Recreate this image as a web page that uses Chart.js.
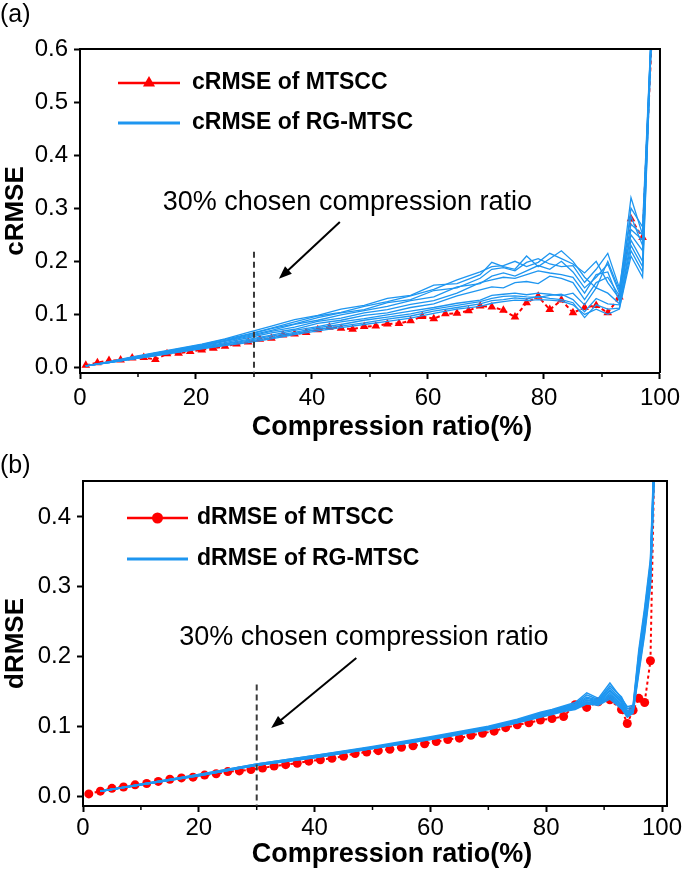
<!DOCTYPE html>
<html><head><meta charset="utf-8">
<script src="https://cdn.jsdelivr.net/npm/chart.js@4.4.1/dist/chart.umd.min.js"></script>
<style>
html,body{margin:0;padding:0;background:#fff;}
#wrap{position:relative;width:685px;height:871px;overflow:hidden;background:#fff;}
canvas{position:absolute;left:0;}
</style></head><body>
<div id="wrap">
<canvas id="ca" width="685" height="445" style="top:0px"></canvas>
<canvas id="cb" width="685" height="431" style="top:440px"></canvas>
</div>
<script>
const FONT = "'Liberation Sans', Arial, sans-serif";
const RED = '#ff0000';
const BLUE = '#1e96f0';

// ---------- shared tick labels ----------
const xTicks = [0, 20, 40, 60, 80, 100];
const xMinorTicks = [10, 30, 50, 70, 90];
const yTicksA = [0, 0.1, 0.2, 0.3, 0.4, 0.5, 0.6];
const yTicksB = [0, 0.1, 0.2, 0.3, 0.4];

// ---------- panel (a): cRMSE ----------
const redA_x = [1,3,5,7,9,11,13,15,17,19,21,23,25,27,29,31,33,35,37,39,41,43,45,47,49,51,53,55,57,59,61,63,65,67,69,71,73,75,77,79,81,83,85,87,89,91,93,95,97,99];
const redA_y = [0.004,0.009,0.013,0.014,0.018,0.019,0.015,0.026,0.027,0.030,
                0.033,0.036,0.040,0.044,0.048,0.053,0.055,0.061,0.063,0.066,
                0.071,0.076,0.074,0.072,0.077,0.078,0.082,0.083,0.088,0.096,
                0.092,0.101,0.102,0.107,0.116,0.114,0.108,0.095,0.122,0.134,
                0.109,0.127,0.103,0.113,0.117,0.103,0.133,0.280,0.245,0.72];

const blueA_x = [1,5,9,13,17,21,25,29,33,37,41,45,49,53,57,61,65,69,71,73,75,77,79,81,83,85,87,89,91,93,95,97,99];
const blueA_1 = [0.003,0.011,0.020,0.028,0.036,0.044,0.054,0.066,0.078,0.090, 0.098,0.110,0.117,0.130,0.136,0.155,0.158,0.175,0.198,0.190, 0.185,0.210,0.190,0.205,0.220,0.200,0.170,0.150,0.200,0.145, 0.320,0.250,0.76];
const blueA_2 = [0.003,0.010,0.019,0.027,0.035,0.043,0.053,0.063,0.074,0.086, 0.097,0.104,0.115,0.124,0.135,0.147,0.165,0.180,0.190,0.192, 0.200,0.190,0.198,0.215,0.205,0.195,0.178,0.200,0.160,0.130, 0.300,0.265,0.76];
const blueA_3 = [0.003,0.010,0.019,0.027,0.034,0.042,0.051,0.062,0.073,0.082, 0.094,0.103,0.109,0.122,0.128,0.145,0.150,0.168,0.185,0.188, 0.182,0.198,0.205,0.195,0.190,0.192,0.160,0.185,0.215,0.150, 0.285,0.230,0.76];
const blueA_4 = [0.003,0.010,0.018,0.026,0.033,0.041,0.050,0.060,0.070,0.081, 0.089,0.099,0.107,0.115,0.126,0.133,0.152,0.158,0.172,0.178, 0.172,0.182,0.192,0.185,0.200,0.180,0.150,0.170,0.195,0.140, 0.270,0.250,0.76];
const blueA_5 = [0.003,0.010,0.018,0.025,0.033,0.040,0.049,0.058,0.068,0.076, 0.087,0.093,0.103,0.109,0.119,0.126,0.140,0.160,0.165,0.170, 0.168,0.175,0.182,0.178,0.175,0.170,0.140,0.175,0.180,0.125, 0.260,0.240,0.76];
const blueA_6 = [0.003,0.010,0.017,0.025,0.032,0.039,0.047,0.056,0.065,0.072, 0.083,0.089,0.098,0.103,0.113,0.120,0.135,0.146,0.152,0.150, 0.160,0.162,0.158,0.172,0.168,0.160,0.128,0.160,0.170,0.135, 0.250,0.220,0.76];
const blueA_7 = [0.003,0.009,0.017,0.024,0.031,0.038,0.045,0.053,0.061,0.070, 0.077,0.086,0.092,0.099,0.106,0.113,0.121,0.127,0.136,0.138, 0.140,0.137,0.140,0.138,0.135,0.140,0.118,0.150,0.140,0.120, 0.240,0.200,0.76];
const blueA_8 = [0.003,0.009,0.016,0.023,0.030,0.037,0.044,0.051,0.059,0.066, 0.075,0.081,0.089,0.095,0.101,0.110,0.117,0.124,0.130,0.134, 0.135,0.133,0.132,0.136,0.138,0.128,0.105,0.130,0.120,0.118, 0.230,0.190,0.76];
const blueA_9 = [0.003,0.009,0.016,0.023,0.029,0.036,0.042,0.049,0.056,0.064, 0.072,0.078,0.084,0.091,0.097,0.106,0.113,0.120,0.126,0.128, 0.131,0.129,0.134,0.130,0.128,0.122,0.094,0.118,0.110,0.112, 0.220,0.180,0.76];
const blueA_10 = [0.003,0.009,0.016,0.022,0.029,0.035,0.041,0.047,0.054,0.062, 0.069,0.075,0.081,0.087,0.093,0.102,0.110,0.115,0.121,0.124, 0.127,0.126,0.128,0.127,0.125,0.118,0.100,0.110,0.100,0.110, 0.210,0.170,0.76];

// ---------- panel (b): dRMSE ----------
const redB_x = [1,3,5,7,9,11,13,15,17,19,21,23,25,27,29,31,33,35,37,39,41,43,45,47,49,51,53,55,57,59,61,63,65,67,69,71,73,75,77,79,81,83,85,87,89,91,93,94,95,96,97,98,99];
const redB_y = [0.003,0.007,0.011,0.013,0.016,0.018,0.021,0.024,0.026,0.027,
                0.030,0.032,0.035,0.036,0.038,0.040,0.043,0.045,0.047,0.050,
                0.052,0.054,0.057,0.061,0.063,0.065,0.067,0.070,0.072,0.075,
                0.078,0.081,0.083,0.087,0.090,0.093,0.098,0.102,0.105,0.109,
                0.111,0.114,0.131,0.127,0.135,0.138,0.124,0.104,0.123,0.140,0.134,0.194,0.62];

const blueB_x = [3,10,20,30,40,50,60,70,75,79,81,83,85,87,89,91,93,94,95,96,97,98,99];
const blueB_1 = [0.007,0.017,0.031,0.046,0.058,0.071,0.085,0.100,0.110,0.120,0.124,0.129,0.134,0.148,0.140,0.162,0.140,0.128,0.130,0.210,0.270,0.340,0.58];
const blueB_2 = [0.007,0.017,0.031,0.046,0.058,0.070,0.084,0.099,0.109,0.119,0.123,0.128,0.132,0.145,0.138,0.158,0.142,0.125,0.128,0.205,0.265,0.335,0.57];
const blueB_3 = [0.007,0.017,0.030,0.045,0.057,0.070,0.084,0.099,0.108,0.118,0.122,0.127,0.131,0.142,0.137,0.155,0.138,0.122,0.126,0.200,0.260,0.330,0.57];
const blueB_4 = [0.007,0.017,0.030,0.045,0.057,0.070,0.083,0.098,0.108,0.117,0.121,0.126,0.130,0.140,0.136,0.152,0.136,0.120,0.125,0.196,0.255,0.325,0.56];
const blueB_5 = [0.007,0.016,0.030,0.045,0.057,0.069,0.083,0.098,0.107,0.116,0.120,0.125,0.129,0.138,0.135,0.150,0.134,0.118,0.124,0.192,0.250,0.320,0.56];
const blueB_6 = [0.007,0.016,0.030,0.045,0.056,0.069,0.083,0.097,0.107,0.116,0.120,0.124,0.128,0.137,0.134,0.147,0.132,0.117,0.123,0.190,0.248,0.318,0.56];
const blueB_7 = [0.007,0.016,0.030,0.044,0.056,0.069,0.082,0.097,0.106,0.115,0.119,0.124,0.127,0.135,0.133,0.145,0.130,0.116,0.122,0.186,0.244,0.314,0.55];
const blueB_8 = [0.007,0.016,0.029,0.044,0.056,0.068,0.082,0.096,0.106,0.115,0.118,0.123,0.126,0.134,0.132,0.143,0.128,0.115,0.121,0.183,0.240,0.310,0.55];
const blueB_9 = [0.007,0.016,0.029,0.044,0.055,0.068,0.081,0.096,0.105,0.114,0.118,0.122,0.125,0.133,0.131,0.141,0.127,0.114,0.120,0.180,0.236,0.306,0.55];
const blueB_10 = [0.007,0.016,0.029,0.044,0.055,0.068,0.081,0.095,0.105,0.113,0.117,0.121,0.124,0.132,0.130,0.139,0.125,0.113,0.119,0.176,0.232,0.300,0.54];

const legendA = ['cRMSE of MTSCC', 'cRMSE of RG-MTSC'];
const legendB = ['dRMSE of MTSCC', 'dRMSE of RG-MTSC'];
const annotText = '30% chosen compression ratio';
const xTitle = 'Compression ratio(%)';

// ---------- helpers ----------
const pts = (xs, ys) => xs.map((x, i) => ({x: x, y: ys[i]}));
function blueSet(xs, ys, w) {
  return {data: pts(xs, ys), borderColor: BLUE, borderWidth: w, pointRadius: 0, tension: 0, order: 0};
}
function drawMarker(ctx, style, x, y, r) {
  ctx.beginPath();
  if (style === 'triangle') {
    ctx.moveTo(x, y - r);
    ctx.lineTo(x + r * 0.866, y + r * 0.5);
    ctx.lineTo(x - r * 0.866, y + r * 0.5);
    ctx.closePath();
  } else {
    ctx.arc(x, y, r, 0, Math.PI * 2);
  }
  ctx.fill();
}

function overlay(cfg) {
  return {
    id: 'overlay',
    afterDraw(chart) {
      const {ctx, chartArea: a, scales: {x, y}} = chart;
      ctx.save();
      // frame (top & right)
      ctx.strokeStyle = '#000'; ctx.lineWidth = 2; ctx.setLineDash([]);
      ctx.beginPath();
      ctx.moveTo(a.left, a.top); ctx.lineTo(a.right, a.top); ctx.lineTo(a.right, a.bottom);
      ctx.stroke();
      // minor x ticks
      ctx.lineWidth = 1.5;
      xMinorTicks.forEach(v => {
        const px = x.getPixelForValue(v);
        ctx.beginPath(); ctx.moveTo(px, a.bottom); ctx.lineTo(px, a.bottom + 4); ctx.stroke();
      });
      // dashed line at chosen ratio
      const lx = x.getPixelForValue(cfg.ann.lineX);
      ctx.strokeStyle = '#3a3a3a'; ctx.lineWidth = 2; ctx.setLineDash([6, 4]);
      ctx.beginPath(); ctx.moveTo(lx, y.getPixelForValue(cfg.ann.lineTop)); ctx.lineTo(lx, a.bottom); ctx.stroke();
      ctx.setLineDash([]);
      // arrow
      const x1 = x.getPixelForValue(cfg.ann.arrow[0]), y1 = y.getPixelForValue(cfg.ann.arrow[1]);
      const x2 = x.getPixelForValue(cfg.ann.arrow[2]), y2 = y.getPixelForValue(cfg.ann.arrow[3]);
      const ang = Math.atan2(y2 - y1, x2 - x1);
      ctx.strokeStyle = '#000'; ctx.fillStyle = '#000'; ctx.lineWidth = 2;
      ctx.beginPath(); ctx.moveTo(x1, y1); ctx.lineTo(x2 - 6 * Math.cos(ang), y2 - 6 * Math.sin(ang)); ctx.stroke();
      ctx.beginPath();
      ctx.moveTo(x2, y2);
      ctx.lineTo(x2 - 13 * Math.cos(ang) + 5 * Math.sin(ang), y2 - 13 * Math.sin(ang) - 5 * Math.cos(ang));
      ctx.lineTo(x2 - 13 * Math.cos(ang) - 5 * Math.sin(ang), y2 - 13 * Math.sin(ang) + 5 * Math.cos(ang));
      ctx.closePath(); ctx.fill();
      // annotation text
      ctx.font = '27px ' + FONT; ctx.textAlign = 'center'; ctx.textBaseline = 'middle';
      ctx.fillText(annotText, x.getPixelForValue(cfg.ann.textAt[0]), y.getPixelForValue(cfg.ann.textAt[1]));
      // legend
      const L = cfg.legend;
      ctx.lineWidth = 2.5;
      ctx.strokeStyle = RED; ctx.fillStyle = RED;
      ctx.beginPath(); ctx.moveTo(L.x0, L.y1); ctx.lineTo(L.x1, L.y1); ctx.stroke();
      drawMarker(ctx, cfg.marker, (L.x0 + L.x1) / 2, L.y1, cfg.marker === 'triangle' ? 7 : 5.5);
      ctx.strokeStyle = BLUE; ctx.lineWidth = 3;
      ctx.beginPath(); ctx.moveTo(L.x0, L.y2); ctx.lineTo(L.x1, L.y2); ctx.stroke();
      ctx.fillStyle = '#000'; ctx.font = 'bold 23px ' + FONT; ctx.textAlign = 'left'; ctx.textBaseline = 'middle';
      ctx.fillText(cfg.legendText[0], L.tx, L.y1);
      ctx.fillText(cfg.legendText[1], L.tx, L.y2);
      // x-axis title
      ctx.font = 'bold 27px ' + FONT; ctx.textAlign = 'center';
      ctx.fillText(xTitle, cfg.xTitlePos[0], cfg.xTitlePos[1]);
      // panel label
      ctx.font = '25px ' + FONT; ctx.textAlign = 'left';
      ctx.fillText(cfg.panel, 0, cfg.panelY);
      ctx.restore();
    }
  };
}

function makeChart(id, datasets, cfg) {
  const axisGrid = {drawOnChartArea: false, drawTicks: true, tickLength: 6, tickWidth: 2, tickColor: '#000', color: '#000'};
  return new Chart(document.getElementById(id), {
    type: 'line',
    data: {datasets: datasets},
    options: {
      responsive: false, animation: false, events: [],
      layout: {padding: {top: cfg.padTop, right: cfg.padRight, left: 0, bottom: 0}},
      plugins: {legend: {display: false}, tooltip: {enabled: false}},
      scales: {
        x: {
          type: 'linear', min: 0, max: cfg.xMax,
          afterFit(s) { s.height = cfg.xH; },
          afterBuildTicks(s) { s.ticks = xTicks.map(v => ({value: v})); },
          grid: axisGrid,
          border: {display: true, color: '#000', width: 2},
          ticks: {font: {family: FONT, size: 24}, color: '#000', padding: cfg.xPad, maxRotation: 0, callback: v => String(v)}
        },
        y: {
          type: 'linear', min: cfg.yMin, max: cfg.yMax,
          afterFit(s) { s.width = cfg.yW; },
          afterBuildTicks(s) { s.ticks = cfg.yTicks.map(v => ({value: v})); },
          grid: axisGrid,
          border: {display: true, color: '#000', width: 2},
          ticks: {font: {family: FONT, size: 24}, color: '#000', padding: 6, callback: v => Number(v).toFixed(1)},
          title: {display: true, text: cfg.yTitle, color: '#000', font: {family: FONT, size: 26, weight: 'bold'}, padding: 0}
        }
      }
    },
    plugins: [overlay(cfg)]
  });
}

// ---------- chart (a) ----------
makeChart('ca', [
  blueSet(blueA_x, blueA_1, 1.3), blueSet(blueA_x, blueA_2, 1.3), blueSet(blueA_x, blueA_3, 1.3),
  blueSet(blueA_x, blueA_4, 1.3), blueSet(blueA_x, blueA_5, 1.3), blueSet(blueA_x, blueA_6, 1.3),
  blueSet(blueA_x, blueA_7, 1.3), blueSet(blueA_x, blueA_8, 1.3), blueSet(blueA_x, blueA_9, 1.3),
  blueSet(blueA_x, blueA_10, 1.3),
  {data: pts(redA_x, redA_y), borderColor: RED, backgroundColor: RED, borderWidth: 2, borderDash: [4, 3],
   pointStyle: 'triangle', pointRadius: 5, pointBorderWidth: 0, pointBackgroundColor: RED, tension: 0, order: 1}
], {
  padTop: 49, padRight: 22, xH: 72, yW: 80, xMax: 100, yMin: -0.0104, yMax: 0.6, xPad: 5,
  yTicks: yTicksA, yTitle: 'cRMSE', marker: 'triangle', legendText: legendA,
  legend: {x0: 118, x1: 180, y1: 83, y2: 123, tx: 192},
  ann: {lineX: 30, lineTop: 0.218, arrow: [44.8, 0.274, 34.3, 0.167], textAt: [46.1, 0.31]},
  xTitlePos: [392, 428], panel: '(a)', panelY: 15
});

// ---------- chart (b) ----------
makeChart('cb', [
  blueSet(blueB_x, blueB_1, 1.5), blueSet(blueB_x, blueB_2, 1.5), blueSet(blueB_x, blueB_3, 1.5),
  blueSet(blueB_x, blueB_4, 1.5), blueSet(blueB_x, blueB_5, 1.5), blueSet(blueB_x, blueB_6, 1.5),
  blueSet(blueB_x, blueB_7, 1.5), blueSet(blueB_x, blueB_8, 1.5), blueSet(blueB_x, blueB_9, 1.5),
  blueSet(blueB_x, blueB_10, 1.5),
  {data: pts(redB_x, redB_y), borderColor: RED, backgroundColor: RED, borderWidth: 2, borderDash: [3, 3],
   pointStyle: 'circle', pointRadius: 4.5, pointBorderWidth: 0, pointBackgroundColor: RED, tension: 0, order: 1}
], {
  padTop: 41, padRight: 18, xH: 65, yW: 83, xMax: 100.86, yMin: -0.0143, yMax: 0.4516, xPad: 2,
  yTicks: yTicksB, yTitle: 'dRMSE', marker: 'circle', legendText: legendB,
  legend: {x0: 127, x1: 188, y1: 78, y2: 119, tx: 197},
  ann: {lineX: 30, lineTop: 0.16, arrow: [47.2, 0.198, 32.5, 0.0975], textAt: [48.5, 0.2265]},
  xTitlePos: [392, 415], panel: '(b)', panelY: 26
});
</script>
</body></html>
